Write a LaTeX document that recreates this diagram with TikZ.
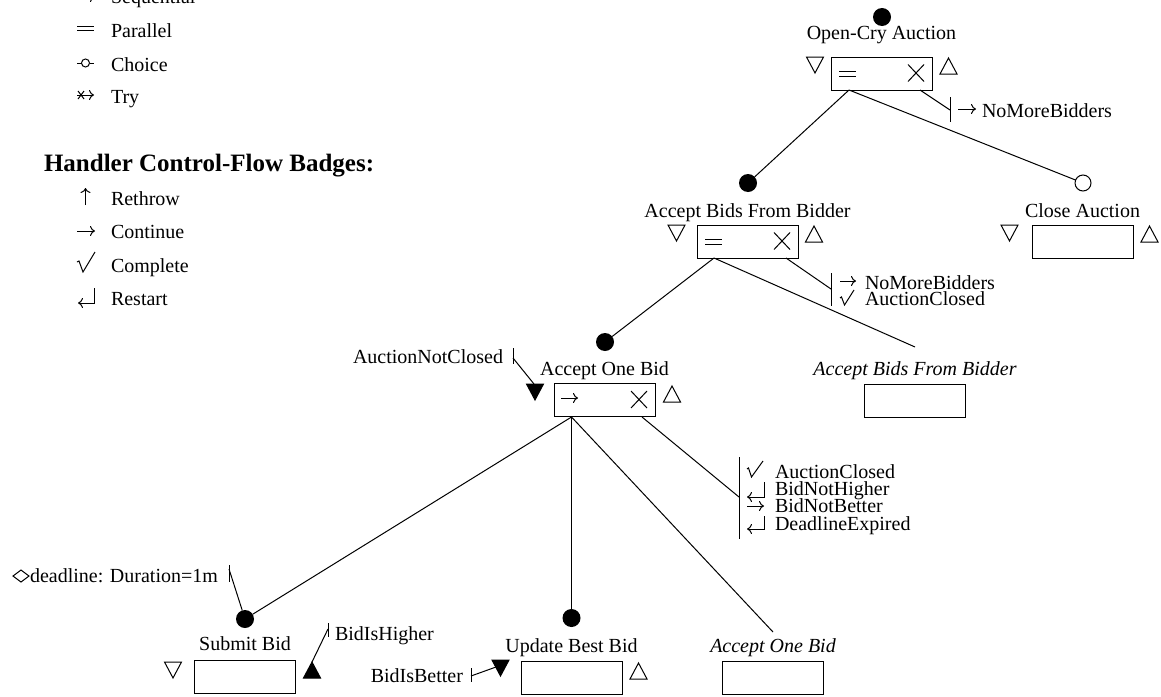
\documentclass[tikz,border=0pt]{standalone}
\usepackage{fontspec}
\setmainfont{Liberation Serif}
\usetikzlibrary{arrows.meta,calc}
\begin{document}
\begin{tikzpicture}[x=1pt,y=-1pt,
  every node/.style={inner sep=0pt,outer sep=0pt},
  lw/.style={line width=1pt},
  txt/.style={font=\fontsize{20}{17}\selectfont},
  itxt/.style={font=\fontsize{20}{17}\selectfont\itshape},
  opbox/.style={draw,line width=1pt,minimum width=101pt,minimum height=33pt},
  fdot/.style={circle,fill,minimum size=18pt},
  odot/.style={circle,draw,line width=1pt,minimum size=16pt},
  arr/.style={lw,-{Computer Modern Rightarrow[length=5pt,width=10pt]}},
  dtri/.pic={\draw[lw,line join=miter] (-8.5,0)--(8.5,0)--(0,16)--cycle;},
  utri/.pic={\draw[lw,line join=miter] (-8.5,16)--(8.5,16)--(0,0)--cycle;},
  fdtri/.pic={\filldraw[lw,line join=miter] (-8.5,0)--(8.5,0)--(0,16)--cycle;},
  futri/.pic={\filldraw[lw,line join=miter] (-8.5,16)--(8.5,16)--(0,0)--cycle;},
]
\useasboundingbox (0,0) rectangle (1161,696);
\clip (0,0) rectangle (1161,696);

% ---------------- legend ----------------
\draw[arr] (77,-3) -- (95,-3);
\node[txt,anchor=base west] (lseq) at (111,4) {Sequential};
\draw[lw] (77,26) -- (94,26) (77,30) -- (94,30);
\node[txt,anchor=base west] (lpar) at (111,37) {Parallel};
\draw[lw] (77,63) -- (81.5,63) (89.5,63) -- (94,63);
\draw[lw] (85.5,63) circle (4);
\node[txt,anchor=base west] (lcho) at (111,71) {Choice};
\draw[arr] (77,95) -- (94,95);
\draw[lw] (78,91) -- (84,99) (78,99) -- (84,91);
\node[txt,anchor=base west] (ltry) at (111,103) {Try};

\node[font=\fontsize{25}{30}\selectfont\bfseries,anchor=base west] (lhead) at (44,171) {Handler Control-Flow Badges:};
\draw[arr] (85.5,205) -- (85.5,188);
\node[txt,anchor=base west] (lre) at (111,205) {Rethrow};
\draw[arr] (77,231) -- (95,231);
\node[txt,anchor=base west] (lco) at (111,238) {Continue};
\draw[lw] (77,262) -- (79,261) -- (83,272) -- (95,252);
\node[txt,anchor=base west] (lcm) at (111,272) {Complete};
\draw[lw] (94,288) -- (94,303);
\draw[arr] (94.5,303) -- (78,303);
\node[txt,anchor=base west] (lrs) at (111,305) {Restart};

% ---------------- root ----------------
\node[fdot] (d0) at (882,17) {};
\node[txt,anchor=base] (t0) at (881.5,39) {Open-Cry Auction};
\node[opbox] (b0) at (881.5,73.5) {};
\draw[lw] ($(b0.west)+(8,-2.5)$) -- +(17,0) ($(b0.west)+(8,2.5)$) -- +(17,0);
\draw[lw] ($(b0.east)+(-24,-9)$) -- +(16,17) ($(b0.east)+(-24,8)$) -- +(16,-17);
\pic at (815,57) {dtri};
\pic at (948.5,58) {utri};
\coordinate (o0) at (849,90);

% handler of root
\coordinate (h0) at (950,110);
\draw[lw] (950,97) -- (950,122);
\draw[lw] (920,90) -- (h0);
\draw[arr] (958,109) -- (976,109);
\node[txt,anchor=base west] (h0a) at (982,117) {NoMoreBidders};

% ---------------- Accept Bids From Bidder ----------------
\node[fdot] (d1) at (748,183) {};
\node[txt,anchor=base] (t1) at (747.5,217) {Accept Bids From Bidder};
\node[opbox] (b1) at (747.5,241.5) {};
\draw[lw] ($(b1.west)+(8,-2.5)$) -- +(17,0) ($(b1.west)+(8,2.5)$) -- +(17,0);
\draw[lw] ($(b1.east)+(-24,-9)$) -- +(16,17) ($(b1.east)+(-24,8)$) -- +(16,-17);
\pic at (676.5,225) {dtri};
\pic at (814,226) {utri};
\coordinate (o1) at (714,258);
\draw[lw] (o0) -- (d1);

% handler of b1
\coordinate (h1) at (831,289);
\draw[lw] (831,273) -- (831,306);
\draw[lw] (786,258) -- (h1);
\draw[arr] (840,281) -- (856,281);
\draw[lw] (840,298) -- (841.5,297) -- (844.5,305) -- (854,290);
\node[txt,anchor=base west] (h1a) at (865,289) {NoMoreBidders};
\node[txt,anchor=base west] (h1b) at (865,305) {AuctionClosed};

% ---------------- Close Auction ----------------
\node[odot] (d2) at (1083,183) {};
\node[txt,anchor=base] (t2) at (1082.5,217) {Close Auction};
\node[opbox] (b2) at (1082.5,241.5) {};
\pic at (1009.5,225) {dtri};
\pic at (1149.5,226) {utri};
\draw[lw] (o0) -- (d2);

% ---------------- Accept One Bid ----------------
\node[fdot] (d3) at (605,342) {};
\node[txt,anchor=base] (t3) at (604.5,375) {Accept One Bid};
\node[opbox] (b3) at (604.5,400) {};
\draw[arr] ($(b3.west)+(7,-2)$) -- +(17,0);
\draw[lw] ($(b3.east)+(-24,-9)$) -- +(16,17) ($(b3.east)+(-24,8)$) -- +(16,-17);
\pic at (535,384) {fdtri};
\pic at (672,386) {utri};
\coordinate (o3) at (571.5,417);
\draw[lw] (o1) -- (d3);

% precondition
\node[txt,anchor=base east] (p3) at (503,363) {AuctionNotClosed};
\draw[lw] (513,348) -- (513,364);
\coordinate (p3h) at (513,358);
\coordinate (p3t) at (534,384);
\draw[lw] (p3h) -- (p3t);

% handler of b3
\coordinate (h3) at (739,497);
\draw[lw] (739,457) -- (739,539);
\draw[lw] (642,417) -- (h3);
\draw[lw] (747,469) -- (748.5,468) -- (751.5,477) -- (763,461);
\draw[lw] (764,482) -- (764,497);
\draw[arr] (764.5,497) -- (747,497);
\draw[arr] (747,506) -- (764,506);
\draw[lw] (764,516) -- (764,529);
\draw[arr] (764.5,529) -- (747,529);
\node[txt,anchor=base west] (h3a) at (775,478) {AuctionClosed};
\node[txt,anchor=base west] (h3b) at (775,495) {BidNotHigher};
\node[txt,anchor=base west] (h3c) at (775,512) {BidNotBetter};
\node[txt,anchor=base west] (h3d) at (775,530) {DeadlineExpired};

% ---------------- reference: Accept Bids From Bidder ----------------
\node[itxt,anchor=base] (t4) at (915,375) {Accept Bids From Bidder};
\node[opbox] (b4) at (915,400.5) {};
\coordinate (e4) at (915,347);
\draw[lw] (o1) -- (e4);

% ---------------- Submit Bid ----------------
\node[fdot] (d5) at (245,619) {};
\node[txt,anchor=base] (t5) at (245,650) {Submit Bid};
\node[opbox] (b5) at (245,677) {};
\pic at (173,662) {dtri};
\pic at (312,662) {futri};
\draw[lw] (o3) -- (d5);
% deadline annotation
\draw[lw] (13,576) -- (21,570) -- (29,576) -- (21,582) -- cycle;
\node[txt,anchor=base west] (p5) at (30,582) {deadline: Duration=1m};
\draw[lw] (229,565) -- (229,582);
\coordinate (p5h) at (229,569);
\draw[lw] (p5h) -- (d5);
% BidIsHigher
\node[txt,anchor=base west] (q5) at (335,640) {BidIsHigher};
\draw[lw] (328,623) -- (328,637);
\coordinate (q5h) at (328,629);
\coordinate (q5t) at (312,662);
\draw[lw] (q5h) -- (q5t);

% ---------------- Update Best Bid ----------------
\node[fdot] (d6) at (571.5,618) {};
\node[txt,anchor=base] (t6) at (571.5,652) {Update Best Bid};
\node[opbox] (b6) at (572,677.5) {};
\pic at (500.5,660) {fdtri};
\pic at (638.5,663) {utri};
\draw[lw] (o3) -- (d6);
\node[txt,anchor=base east] (p6) at (463,682) {BidIsBetter};
\draw[lw] (471,668) -- (471,682);
\coordinate (p6h) at (471,676);
\coordinate (p6t) at (496,667);
\draw[lw] (p6h) -- (p6t);

% ---------------- reference: Accept One Bid ----------------
\node[itxt,anchor=base] (t7) at (773,652) {Accept One Bid};
\node[opbox] (b7) at (773,677.5) {};
\coordinate (e7) at (773,632);
\draw[lw] (o3) -- (e7);
\end{tikzpicture}
\end{document}
